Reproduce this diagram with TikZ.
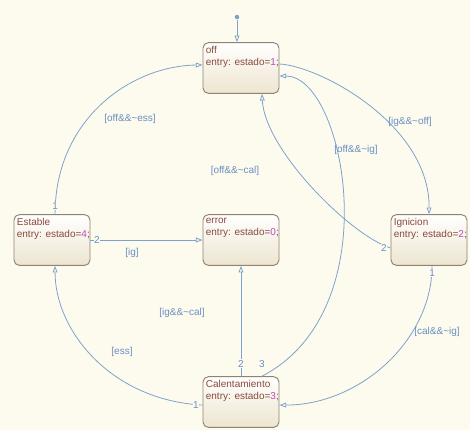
\documentclass[tikz,border=0pt]{standalone}
\usepackage{fontspec}
\setmainfont{Liberation Sans}
\usetikzlibrary{arrows.meta}

\definecolor{canvas}{HTML}{FDFBEE}
\definecolor{stateline}{HTML}{8E8272}
\definecolor{statebottom}{HTML}{EDE5CF}
\definecolor{statetxt}{HTML}{8A4A3C}
\definecolor{estadonum}{HTML}{C445C4}
\definecolor{transline}{HTML}{7EA2CB}
\definecolor{transtxt}{HTML}{6A8EC2}

\newcommand{\estado}[1]{entry: estado=\textcolor{estadonum}{#1};}

\begin{document}
\begin{tikzpicture}[x=0.75pt, y=-0.75pt,
    font=\fontsize{7.5}{9}\selectfont,
    state/.style={draw=stateline, line width=0.7pt, rounded corners=4pt,
        top color=white, bottom color=statebottom,
        minimum width=57pt, minimum height=38pt, inner sep=0pt},
    statename/.style={text=statetxt, align=left, anchor=north west,
        inner sep=0pt, xshift=2.3pt, yshift=-3pt},
    trans/.style={draw=transline, line width=0.6pt,
        -{Triangle[open, length=5pt, width=3.6pt]}},
    guard/.style={text=transtxt, inner sep=1pt},
    port/.style={text=transtxt, fill=canvas, inner sep=0.5pt},
]
    \fill[canvas] (0,0) rectangle (470,430);
    \useasboundingbox (0,0) rectangle (470,430);

    % states
    \node[state, label={[statename]north west:{off\\\estado{1}}}] (off) at (241,68) {};
    \node[state, label={[statename]north west:{Estable\\\estado{4}}}] (estable) at (52,240) {};
    \node[state, label={[statename]north west:{error\\\estado{0}}}] (error) at (241,240) {};
    \node[state, label={[statename]north west:{Ignicion\\\estado{2}}}] (ignicion) at (429,240) {};
    \node[state, label={[statename]north west:{Calentamiento\\\estado{3}}}] (calent) at (241,402) {};

    % default transition
    \node[circle, fill=transline, inner sep=1.2pt] (init) at (237,17) {};
    \draw[trans] (init) -- (init |- off.north);

    % transitions
    \draw[trans] ([xshift=2.3pt]estable.north) node[port, anchor=south, yshift=2.5pt] {1}
        .. controls (55,120) and (130,66) .. ([yshift=2.3pt]off.west);
    \draw[trans] (estable.east) node[port, anchor=west, xshift=2pt] {2} -- (error.west);
    \draw[trans] ([yshift=3pt]off.east)
        .. controls (320,66) and (430,125) .. (ignicion.north);
    \draw[trans] ([yshift=-6pt]ignicion.west) node[port, anchor=east, xshift=-2pt] {2}
        .. controls (350,235) and (265,150) .. ([xshift=15.7pt]off.south);
    \draw[trans] ([xshift=15.7pt]calent.north) node[port, anchor=south, yshift=6pt] {3}
        .. controls (390,310) and (345,76) .. ([yshift=-6pt]off.east);
    \draw[trans] (calent.north) node[port, anchor=south, yshift=6pt] {2} -- (error.south);
    \draw[trans] ([yshift=-2.3pt]calent.west) node[port, anchor=east, xshift=-2pt] {1}
        .. controls (110,400) and (55,330) .. ([xshift=2.3pt]estable.south);
    \draw[trans] ([xshift=2.3pt]ignicion.south) node[port, anchor=north, yshift=-2pt] {1}
        .. controls (432,340) and (360,405) .. ([yshift=-2.3pt]calent.east);

    % guards
    \node[guard] (gIgOff) at (410,122) {[ig\&\&\textasciitilde off]};
    \node[guard] (gOffIg) at (356,150) {[off\&\&\textasciitilde ig]};
    \node[guard] (gOffEss) at (130,119) {[off\&\&\textasciitilde ess]};
    \node[guard] (gOffCal) at (235,171) {[off\&\&\textasciitilde cal]};
    \node[guard] (gIg) at (132,253) {[ig]};
    \node[guard] (gIgCal) at (182,313) {[ig\&\&\textasciitilde cal]};
    \node[guard] (gEss) at (122,352) {[ess]};
    \node[guard] (gCalIg) at (437,332) {[cal\&\&\textasciitilde ig]};
\end{tikzpicture}
\end{document}
